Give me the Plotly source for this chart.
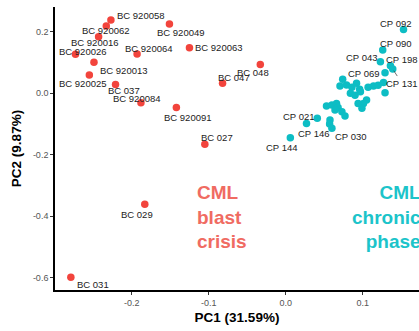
import plotly.graph_objects as go

# PCA scores
bc_names = ["BC 920058", "BC 920062", "BC 920016", "BC 920026", "BC 920013",
            "BC 920025", "BC 037", "BC 920084", "BC 920064", "BC 920049",
            "BC 920063", "BC 920091", "BC 027", "BC 047", "BC 048",
            "BC 029", "BC 031"]
bc_pc1 = [-0.227, -0.233, -0.243, -0.273, -0.249, -0.255, -0.221, -0.188,
          -0.193, -0.151, -0.125, -0.142, -0.105, -0.082, -0.033, -0.183, -0.279]
bc_pc2 = [0.239, 0.219, 0.184, 0.127, 0.101, 0.060, 0.029, -0.031,
          0.128, 0.226, 0.148, -0.046, -0.166, 0.033, 0.094, -0.361, -0.599]

cp_names = ["CP 092", "CP 090", "CP 043", "CP 198", "CP 069", "CP 131",
            "CP 021", "CP 146", "CP 030", "CP 144"]
cp_pc1 = [0.153, 0.126, 0.123, 0.136, 0.129, 0.139, 0.027, 0.057, 0.060, 0.006]
cp_pc2 = [0.208, 0.141, 0.103, 0.090, 0.067, 0.079, -0.098, -0.100, -0.114, -0.145]

# unlabelled chronic phase samples
cp_other_pc1 = [0.074, 0.0705, 0.079, 0.086, 0.092, 0.096, 0.084, 0.090, 0.097,
                0.107, 0.114, 0.120, 0.127, 0.129, 0.105, 0.101, 0.099, 0.094,
                0.053, 0.060, 0.066, 0.068, 0.073, 0.077, 0.064, 0.041, 0.0575]
cp_other_pc2 = [0.046, 0.024, 0.027, 0.020, 0.033, 0.013, 0.000, -0.006, 0.005,
                0.020, 0.024, 0.026, 0.035, 0.002, -0.022, -0.033, -0.049, -0.033,
                -0.041, -0.038, -0.033, -0.046, -0.060, -0.074, -0.054, -0.081, -0.087]

x_ticks = [-0.2, -0.1, 0.0, 0.1]
x_ticktext = ["-0.2", "-0.1", "0.0", "0.1"]
y_ticks = [-0.6, -0.4, -0.2, 0.0, 0.2]
y_ticktext = ["-0.6", "-0.4", "-0.2", "0.0", "0.2"]

# label placement (ggrepel-like), pixel offset of label left edge / centre from point
bc_label_shift = [(4, 4), (-26, -4), (-30, -6), (-18, 3), (4, -8), (-32, -9),
                  (-10, -6), (-30, 4), (-14, 6), (-14, -9), (4, 0), (-14, -10),
                  (-6, 7), (-7, 6), (-25, -8), (-26, -10), (4, -7)]
cp_label_shift = [(-26, 6), (-5, 7), (-36, 4), (-6, 6), (-39, -1), None,
                  (-26, 7), (-34, -9), (1, -8), (-26, -10)]

RED = "#F2443C"
TEAL = "#0DBDC4"
FONT = "Liberation Sans, Arial"
LABEL_FONT = dict(family=FONT, size=9.5, color="#222222")

fig = go.Figure()
fig.add_trace(go.Scatter(x=cp_other_pc1, y=cp_other_pc2, mode="markers",
                         marker=dict(color=TEAL, size=7.5), hoverinfo="skip"))
fig.add_trace(go.Scatter(x=cp_pc1, y=cp_pc2, mode="markers", text=cp_names,
                         marker=dict(color=TEAL, size=7.5)))
fig.add_trace(go.Scatter(x=bc_pc1, y=bc_pc2, mode="markers", text=bc_names,
                         marker=dict(color=RED, size=7.5)))

annotations = []
for names, xs, ys, shifts in [(bc_names, bc_pc1, bc_pc2, bc_label_shift),
                              (cp_names, cp_pc1, cp_pc2, cp_label_shift)]:
    for name, x, y, sh in zip(names, xs, ys, shifts):
        if sh is None:
            # repelled label with a connector segment
            annotations.append(dict(x=x, y=y, text=name, showarrow=True, arrowhead=0,
                                    arrowwidth=0.7, arrowcolor="#333", ax=9, ay=14,
                                    standoff=2, font=LABEL_FONT))
        else:
            annotations.append(dict(x=x, y=y, text=name, showarrow=False,
                                    xanchor="left", yanchor="middle",
                                    xshift=sh[0], yshift=sh[1], font=LABEL_FONT))

annotations.append(dict(x=0.385, y=0.259, xref="paper", yref="paper",
                        text="CML<br>blast<br>crisis",
                        showarrow=False, xanchor="left", yanchor="middle", align="left",
                        font=dict(family=FONT, size=19, color="#F06B62", weight="bold")))
annotations.append(dict(x=1.012, y=0.259, xref="paper", yref="paper",
                        text="CML<br>chronic<br>phase",
                        showarrow=False, xanchor="right", yanchor="middle", align="right",
                        font=dict(family=FONT, size=19, color="#1CC4CA", weight="bold")))

axis_common = dict(showgrid=False, zeroline=False, showline=True, linecolor="black",
                   linewidth=1.6, ticks="outside", ticklen=3, tickcolor="#333",
                   automargin=False,
                   tickfont=dict(family=FONT, size=9, color="#555"))

fig.update_layout(
    width=419, height=331,
    margin=dict(l=55, r=0, t=7, b=41),
    plot_bgcolor="white", paper_bgcolor="white",
    showlegend=False,
    annotations=annotations,
    xaxis=dict(range=[-0.2996, 0.1731], tickvals=x_ticks, ticktext=x_ticktext,
               title=dict(text="<b>PC1 (31.59%)</b>", standoff=6,
                          font=dict(family=FONT, size=13.5, color="black")),
               **axis_common),
    yaxis=dict(range=[-0.6407, 0.2811], tickvals=y_ticks, ticktext=y_ticktext,
               title=dict(text="<b>PC2 (9.87%)</b>", standoff=8,
                          font=dict(family=FONT, size=13.5, color="black")),
               **axis_common),
)

fig.write_html("out.html", config={"displayModeBar": False},
               post_script="document.body.style.margin='0';")
